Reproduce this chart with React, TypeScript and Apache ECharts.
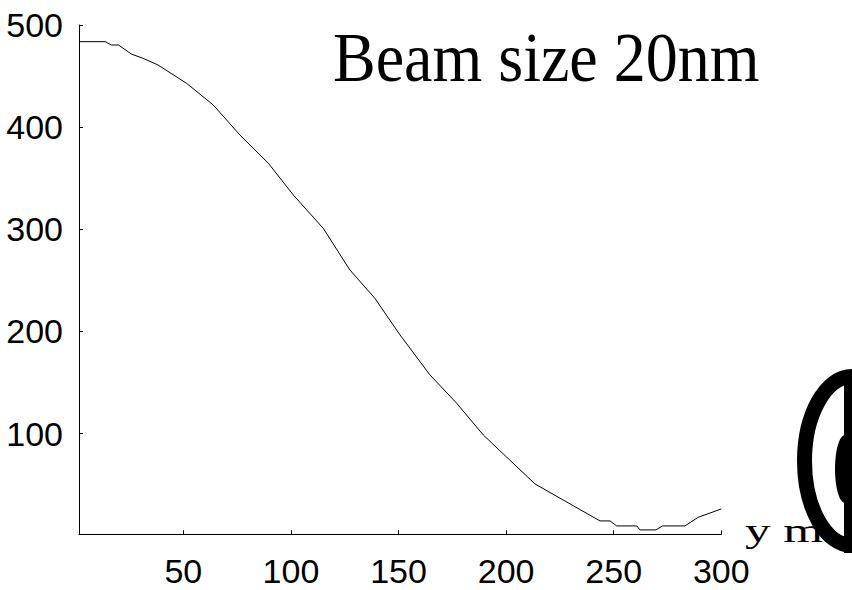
import React, { useEffect, useRef } from "react";
import * as echarts from "echarts";

const xValues = [1.5, 13.7, 16.5, 19.9, 25.8, 31.2, 38.2, 51.5, 63.9, 76.3, 89.5, 101.1, 115.0, 127.4, 139.0, 150.7, 164.6, 177.0, 189.4, 213.4, 243.6, 248.3, 251.4, 260.7, 262.2, 269.6, 272.7, 283.1, 289.3, 300];
const yValues = [483.7, 483.7, 480.4, 480.4, 471.6, 467.4, 460.9, 442.9, 421.7, 392.3, 364.7, 333.6, 301.0, 260.2, 232.5, 196.6, 157.5, 129.8, 98.7, 50.8, 14.6, 14.6, 9.7, 9.7, 5.8, 5.8, 9.7, 9.7, 18.2, 26.3];
const xTicks = [50, 100, 150, 200, 250, 300];
const yTicks = [100, 200, 300, 400, 500];
const titleText = "Beam size 20nm";
const xAxisName = "y m";

const tickFont = '"Liberation Sans", Arial, sans-serif';

export default function App() {
  const ref = useRef<HTMLDivElement>(null);
  useEffect(() => {
    document.body.style.margin = "0";
    const chart = echarts.init(ref.current!, null, { renderer: "svg" });
    const data = xValues.map((x, i) => [x, yValues[i]]);
    chart.setOption({
      animation: false,
      backgroundColor: "#fff",
      grid: { left: 79, right: 130.7, top: 25, bottom: 55.7, containLabel: false },
      xAxis: {
        type: "value",
        min: 1.5,
        max: 300,
        splitNumber: 5,
        splitLine: { show: false },
        axisLine: { show: true, onZero: false, lineStyle: { color: "#000", width: 1 } },
        axisTick: { show: true, inside: true, length: 4, lineStyle: { color: "#000", width: 1 } },
        axisLabel: {
          show: true,
          showMinLabel: false,
          margin: 20,
          color: "#000",
          fontSize: 34,
          fontFamily: tickFont,
          formatter: (v: number) => (xTicks.includes(Math.round(v * 1000) / 1000) ? String(v) : ""),
        },
      },
      yAxis: {
        type: "value",
        min: 1.5,
        max: 500,
        splitNumber: 5,
        splitLine: { show: false },
        axisLine: { show: true, onZero: false, lineStyle: { color: "#000", width: 1 } },
        axisTick: { show: true, inside: true, length: 4, lineStyle: { color: "#000", width: 1 } },
        axisLabel: {
          show: true,
          showMinLabel: false,
          margin: 16,
          color: "#000",
          fontSize: 34,
          fontFamily: tickFont,
          formatter: (v: number) => (yTicks.includes(Math.round(v * 1000) / 1000) ? String(v) : ""),
        },
      },
      series: [
        {
          type: "line",
          data,
          showSymbol: false,
          symbol: "none",
          lineStyle: { color: "#000", width: 1 },
        },
      ],
      graphic: [
        {
          type: "text",
          x: 333,
          y: 57,
          scaleY: 1.1,
          style: {
            text: titleText,
            fontSize: 64,
            fontFamily: '"Liberation Serif", "Times New Roman", serif',
            fill: "#000",
            align: "left",
            verticalAlign: "middle",
          },
        },
        {
          type: "text",
          x: 745,
          y: 531,
          scaleX: 1.55,
          style: {
            text: xAxisName,
            fontSize: 33,
            fontFamily: '"Liberation Serif", "Times New Roman", serif',
            fill: "#000",
            align: "left",
            verticalAlign: "middle",
          },
        },
        {
          type: "ellipse",
          shape: { cx: 852, cy: 461, rx: 47.5, ry: 84.5 },
          style: { fill: "none", stroke: "#000", lineWidth: 15 },
        },
        {
          type: "rect",
          shape: { x: 844, y: 370, width: 8, height: 183 },
          style: { fill: "#000" },
        },
        {
          type: "ellipse",
          shape: { cx: 845, cy: 469, rx: 10, ry: 34 },
          style: { fill: "#000" },
        },
      ],
    });
    return () => chart.dispose();
  }, []);
  return (
    <div
      ref={ref}
      style={{ position: "fixed", left: 0, top: 0, width: 852, height: 590, background: "#fff" }}
    />
  );
}
